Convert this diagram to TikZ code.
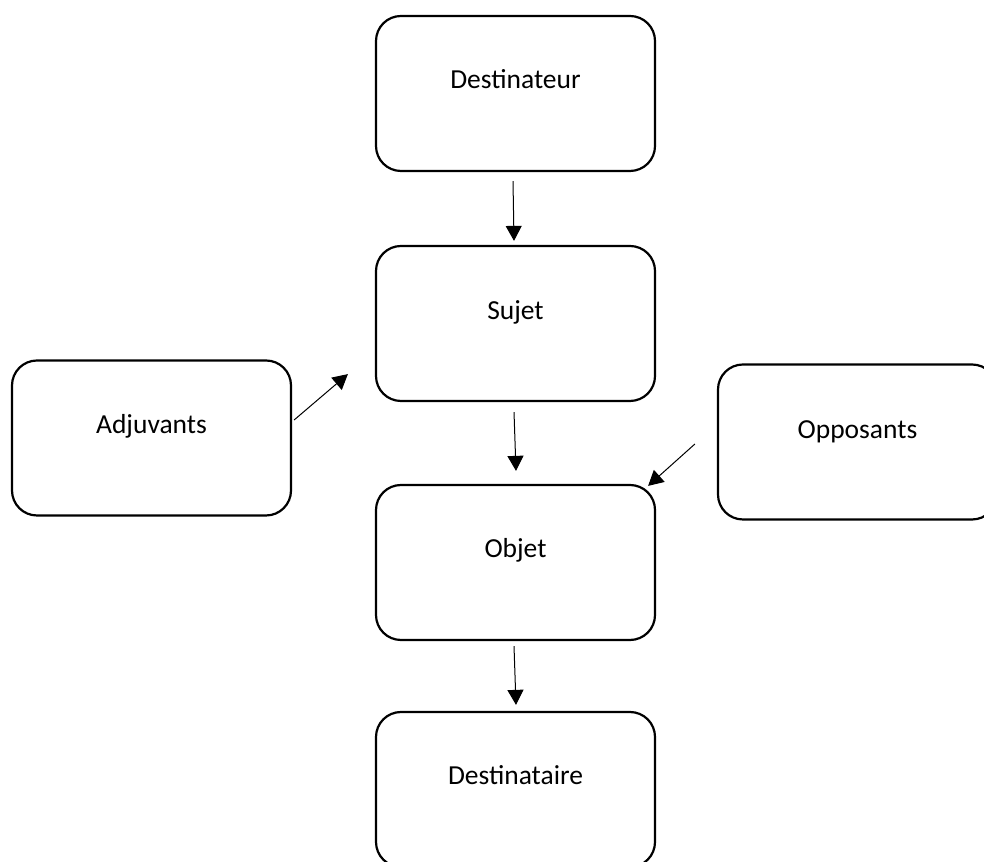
\documentclass[tikz,border=0pt]{standalone}
\usepackage{fontspec}
\setmainfont{Carlito}
\usetikzlibrary{arrows.meta}
\tikzset{
  box/.style={draw=black, line width=2.2pt, rectangle, rounded corners=25pt,
    minimum width=279pt, minimum height=155pt, inner sep=0pt},
  lbl/.style={font=\fontsize{27.5}{32}\selectfont, inner sep=0pt, anchor=base},
  conn/.style={line width=1pt, -{Triangle[width=16pt,length=15pt]}}
}
\begin{document}
\begin{tikzpicture}[x=1pt,y=1pt]
\useasboundingbox (0,0) rectangle (984,861);
\clip (0,0) rectangle (984,861);
\fill[white] (0,0) rectangle (984,861);
% boxes
\node[box] (dest) at (515.5,767.5) {};
\node[box] (sujet) at (515.5,537.5) {};
\node[box] (objet) at (515.5,298.5) {};
\node[box] (desti) at (515.5,71.5) {};
\node[box] (adj) at (151.5,423) {};
\node[box] (opp) at (857.5,419) {};
% labels
\node[lbl] (destT) at ([yshift=-74pt]dest.north) {Destinateur};
\node[lbl] (sujetT) at ([yshift=-75pt]sujet.north) {Sujet};
\node[lbl] (objetT) at ([yshift=-74pt]objet.north) {Objet};
\node[lbl] (destiT) at ([yshift=-74pt]desti.north) {Destinataire};
\node[lbl] (adjT) at ([yshift=-74pt]adj.north) {Adjuvants};
\node[lbl] (oppT) at ([yshift=-75pt]opp.north) {Opposants};
% connectors
\draw[conn] ([shift={(-2.5pt,-9pt)}]dest.south) -- ([shift={(-1.5pt,4pt)}]sujet.north);
\draw[conn] ([shift={(-1.5pt,-10pt)}]sujet.south) -- ([shift={(0.5pt,13pt)}]objet.north);
\draw[conn] ([shift={(-1.5pt,-5pt)}]objet.south) -- ([shift={(0.5pt,6pt)}]desti.north);
\draw[conn] ([shift={(2pt,18pt)}]adj.east) -- ([shift={(-27pt,28pt)}]sujet.south west);
\draw[conn] ([shift={(-22pt,-2pt)}]opp.west) -- ([shift={(-8pt,-2pt)}]objet.north east);
\end{tikzpicture}
\end{document}
